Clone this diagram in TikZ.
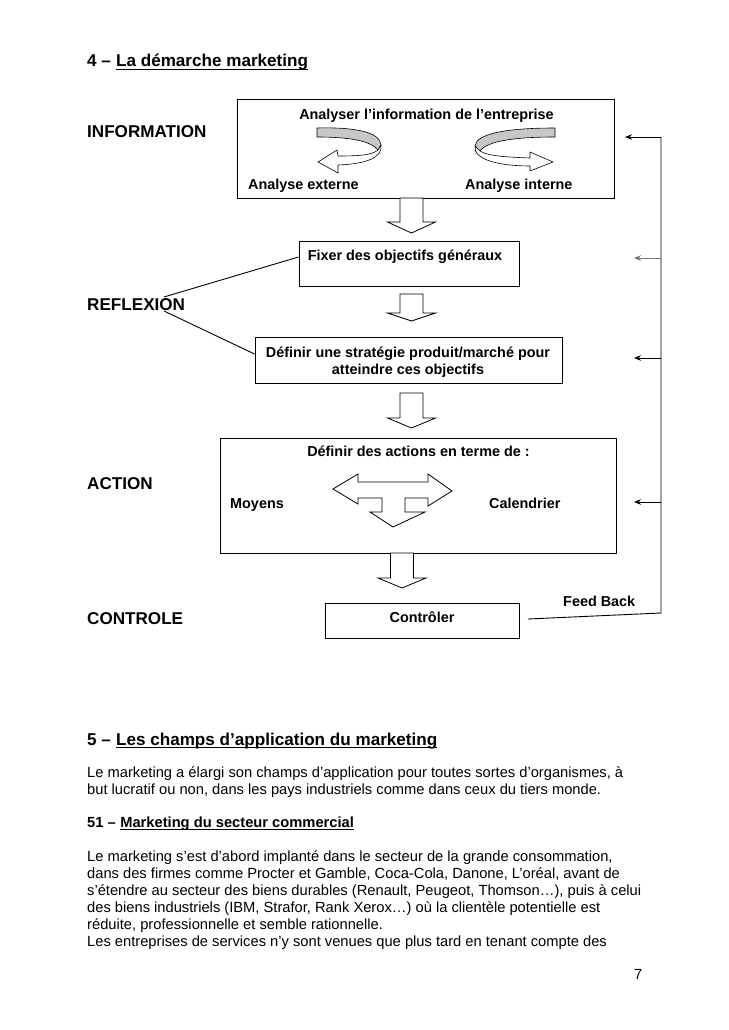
\documentclass[tikz,border=0pt]{standalone}
\usepackage{fontspec}
\setmainfont{Liberation Sans}
\usetikzlibrary{arrows.meta,calc}
\newcommand\blockdown[4]{%
  \draw[barrow] ({#1-11.5},#2) -- ({#1-11.5},#3) -- ({#1-24},#3) -- (#1,#4) -- ({#1+24},#3) -- ({#1+11.5},#3) -- ({#1+11.5},#2) -- cycle;}
\begin{document}
\begin{tikzpicture}[x=1pt,y=-1pt,
  box/.style={draw, line width=1pt, inner sep=0},
  txt/.style={anchor=base west, inner sep=0},
  ctxt/.style={anchor=base, inner sep=0},
  hfont/.style={font=\fontsize{17.1}{20}\selectfont\bfseries},
  bfont/.style={font=\fontsize{14.4}{17}\selectfont\bfseries},
  pfont/.style={font=\fontsize{14.7}{17}\selectfont},
  sfont/.style={font=\fontsize{14.7}{17}\selectfont\bfseries},
  barrow/.style={draw, line width=0.8pt, fill=white, line join=miter},
  ribbon/.style={draw, line width=0.6pt, line join=round},
  fb/.style={line width=0.9pt},
  fbarrow/.style={line width=0.9pt, -{Stealth[length=7pt,width=5.5pt]}},
  uline/.style={line width=1pt}
]
\useasboundingbox (0,0) rectangle (728,1030);
\fill[white] (0,0) rectangle (728,1030);

% ---- Title 4
\node[txt, hfont] (t4) at (87,67) {4 –\kern0.278em};
\node[txt, hfont] (t4u) at (t4.base east) {La démarche marketing};
\draw[uline] ([yshift=-2.5pt]t4u.base west) -- ([yshift=-2.5pt]t4u.base east);

% ---- Left labels
\node[txt, hfont] (linfo) at (87,137) {INFORMATION};
\node[txt, hfont] (lrefl) at (87,310) {REFLEXION};
\node[txt, hfont] (lact) at (87,489) {ACTION};
\node[txt, hfont] (lctrl) at (87,624) {CONTROLE};

% ---- Boxes
\node[box, minimum width=377pt, minimum height=98pt] (b1) at (425.5,149) {};
\node[box, minimum width=220pt, minimum height=45pt] (b2) at (409,263.5) {};
\node[box, minimum width=307pt, minimum height=46pt] (b3) at (408.5,360) {};
\node[box, minimum width=396pt, minimum height=115pt] (b4) at (418,495.5) {};
\node[box, minimum width=194pt, minimum height=35pt] (b5) at (422,620.5) {};

% ---- Box texts
\node[ctxt, bfont] (b1t) at (426.5,120) {Analyser l’information de l’entreprise};
\node[txt, bfont] (b1l) at (248,189) {Analyse externe};
\node[txt, bfont] (b1r) at (465,189) {Analyse interne};
\node[ctxt, bfont] (b2t) at (405,260) {Fixer des objectifs généraux};
\node[ctxt, bfont] (b3t) at (408,357) {Définir une stratégie produit/marché pour};
\node[ctxt, bfont] (b3u) at (408,374) {atteindre ces objectifs};
\node[ctxt, bfont] (b4t) at (418.5,456) {Définir des actions en terme de :};
\node[txt, bfont] (b4l) at (230,508) {Moyens};
\node[txt, bfont] (b4r) at (489,508) {Calendrier};
\node[ctxt, bfont] (b5t) at (422,622) {Contrôler};

% ---- Curved ribbon arrows in box 1
% left
\path[ribbon, fill=black!22] (317,128) .. controls (355,127) and (380,132) .. (381,145)
  -- (378,150) .. controls (371,141) and (350,137) .. (317,137) -- cycle;
\path[ribbon, fill=white] (378,150) .. controls (372,155) and (360,156) .. (338,156)
  -- (337,150) -- (318,162) -- (338,173) -- (338,165)
  .. controls (365,164) and (383,158) .. (381,145) -- cycle;
% right
\path[ribbon, fill=black!22] (555,128) .. controls (505,128) and (476,134) .. (475,146)
  -- (480,151) .. controls (487,141) and (515,137) .. (555,137) -- cycle;
\path[ribbon, fill=white] (480,151) .. controls (488,156) and (505,157) .. (530,158)
  -- (530,152) -- (553,162) -- (530,171) -- (530,166)
  .. controls (500,166) and (473,160) .. (475,146) -- cycle;

% ---- Block arrows between boxes
\blockdown{411.5}{198}{222}{233}
\blockdown{411.5}{294}{313}{321}
\blockdown{411.5}{393}{418}{428}
\blockdown{402}{553}{578}{588}

% ---- T arrow in box 4
\draw[barrow] (333,489) -- (358,474) -- (358,482) -- (428,482) -- (428,474) -- (452,491)
  -- (428,506) -- (428,498) -- (405,498) -- (405,512) -- (425,512) -- (393,527)
  -- (370,512) -- (382,512) -- (382,498) -- (358,498) -- (358,504) -- cycle;

% ---- REFLEXION connectors
\coordinate (r1) at (164,297);
\coordinate (r2) at (164,311);
\draw[line width=0.9pt] (r1) -- ([yshift=6.5pt]b2.west);
\draw[line width=0.9pt] (r2) -- ([yshift=6pt]b3.west);

% ---- Feed back loop
\coordinate (fs) at (528,619);
\coordinate (fbb) at (661,613);
\coordinate (fbt) at (661,137);
\draw[fb] (fs) -- (fbb) -- (fbt);
\coordinate (a1) at (625,137);
\coordinate (a2) at (634,258);
\coordinate (a3) at (634,358);
\coordinate (a4) at (634,502);
\draw[fbarrow] (fbt) -- (a1);
\draw[fbarrow, black!55] (fbt |- a2) -- (a2);
\draw[fbarrow] (fbt |- a3) -- (a3);
\draw[fbarrow] (fbt |- a4) -- (a4);
\node[txt, bfont] (fbl) at (563,606) {Feed Back};

% ---- Section 5
\node[txt, hfont] (t5) at (87,745) {5 –\kern0.278em};
\node[txt, hfont] (t5u) at (t5.base east) {Les champs d’application du marketing};
\draw[uline] ([yshift=-2.5pt]t5u.base west) -- ([yshift=-2.5pt]t5u.base east);

\node[txt, pfont] (p1) at (87,777) {Le marketing a élargi son champs d’application pour toutes sortes d’organismes, à};
\node[txt, pfont] (p2) at (87,794) {but lucratif ou non, dans les pays industriels comme dans ceux du tiers monde.};

\node[txt, sfont] (t51) at (87,827) {51 –\kern0.278em};
\node[txt, sfont] (t51u) at (t51.base east) {Marketing du secteur commercial};
\draw[line width=0.9pt] ([yshift=-2.2pt]t51u.base west) -- ([yshift=-2.2pt]t51u.base east);

\node[txt, pfont] (q1) at (87,861) {Le marketing s’est d’abord implanté dans le secteur de la grande consommation,};
\node[txt, pfont] (q2) at (87,878) {dans des firmes comme Procter et Gamble, Coca-Cola, Danone, L’oréal, avant de};
\node[txt, pfont] (q3) at (87,895) {s’étendre au secteur des biens durables (Renault, Peugeot, Thomson…), puis à celui};
\node[txt, pfont] (q4) at (87,912) {des biens industriels (IBM, Strafor, Rank Xerox…) où la clientèle potentielle est};
\node[txt, pfont] (q5) at (87,929) {réduite, professionnelle et semble rationnelle.};
\node[txt, pfont] (q6) at (87,946) {Les entreprises de services n’y sont venues que plus tard en tenant compte des};

\node[txt, pfont] (pg) at (634,979) {7};
\end{tikzpicture}
\end{document}
